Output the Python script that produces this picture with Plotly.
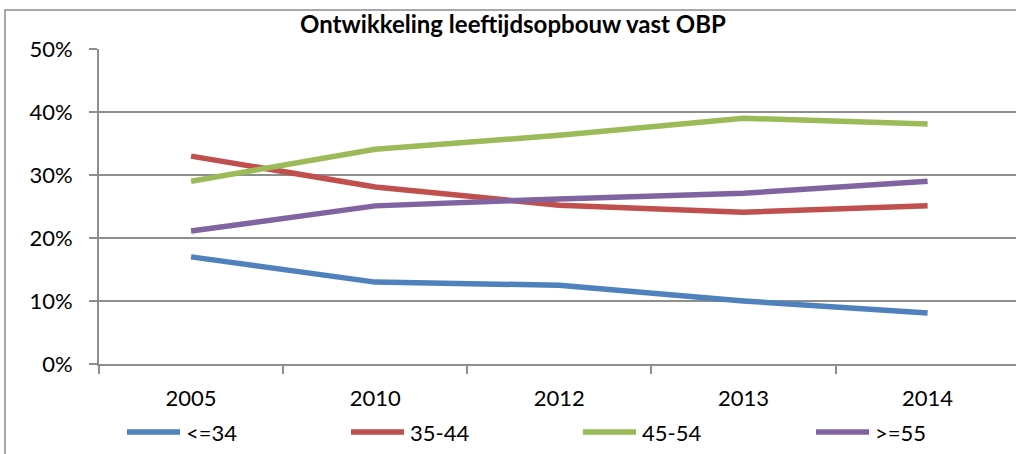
import plotly.graph_objects as go

# chart data
years = ["2005", "2010", "2012", "2013", "2014"]
le_34 = [0.170, 0.130, 0.125, 0.100, 0.081]
age_35_44 = [0.330, 0.281, 0.252, 0.241, 0.251]
age_45_54 = [0.290, 0.341, 0.363, 0.390, 0.381]
ge_55 = [0.211, 0.251, 0.262, 0.271, 0.290]

series_names = ["<=34", "35-44", "45-54", ">=55"]
series_values = [le_34, age_35_44, age_45_54, ge_55]
colors = ["#4F81BD", "#C0504D", "#9BBB59", "#8064A2"]

FONT = "Lato, 'Open Sans', sans-serif"
GRID = "#8E8E8E"

W, H = 1016, 454
# plot area in pixels (left, top, right, bottom)
PL, PT, PR, PB = 99, 49, 1016, 364


def px_x(p):
    return (p - PL) / (PR - PL)


def px_y(p):
    return (PB - p) / (PB - PT)


fig = go.Figure()
for name, vals, color in zip(series_names, series_values, colors):
    fig.add_trace(go.Scatter(
        x=years, y=vals, name=name, mode="lines",
        line=dict(color=color, width=5.5),
    ))

# legend drawn by hand so the sample lines match Excel's long strokes
legend_x = [125, 349, 581, 814]
legend_y = 432
shapes = [dict(
    type="rect", xref="paper", yref="paper",
    x0=px_x(5), x1=px_x(1030), y0=px_y(470), y1=px_y(10),
    line=dict(color="#8c8c8c", width=1.5), layer="below",
)]
annotations = []
for name, color, lx in zip(series_names, colors, legend_x):
    shapes.append(dict(
        type="line", xref="paper", yref="paper",
        x0=px_x(lx + 2), x1=px_x(lx + 55), y0=px_y(legend_y), y1=px_y(legend_y),
        line=dict(color=color, width=5.5),
    ))
    annotations.append(dict(
        text=name, xref="paper", yref="paper",
        x=px_x(lx + 59), y=px_y(legend_y), xanchor="left", yanchor="middle",
        showarrow=False, font=dict(size=22),
    ))

fig.update_layout(
    width=W, height=H,
    margin=dict(l=PL, r=W - PR, t=PT, b=H - PB),
    paper_bgcolor="white", plot_bgcolor="white",
    font=dict(family=FONT, size=22, color="black"),
    title=dict(
        text="<b>Ontwikkeling leeftijdsopbouw vast OBP</b>",
        x=513 / W, xref="container", xanchor="center",
        y=1 - 25 / H, yref="container", yanchor="middle",
        font=dict(size=24, family=FONT),
    ),
    showlegend=False,
    shapes=shapes,
    annotations=annotations,
)
fig.update_xaxes(
    type="category", range=[-0.5, 4.48],
    showline=True, linecolor=GRID, linewidth=2,
    tickson="boundaries", ticks="outside", ticklen=8, tickcolor=GRID, tickwidth=2,
    showgrid=False, ticklabelstandoff=14,
)
fig.update_yaxes(
    range=[0, 0.5], dtick=0.1, tickformat=".0%",
    showline=True, linecolor=GRID, linewidth=2,
    ticks="outside", ticklen=8, tickcolor=GRID, tickwidth=2,
    showgrid=True, gridcolor=GRID, gridwidth=2,
    zeroline=False, ticklabelstandoff=12,
)

fig.write_html(
    "out.html",
    config={"displayModeBar": False},
    post_script="document.body.style.margin='0';",
)
